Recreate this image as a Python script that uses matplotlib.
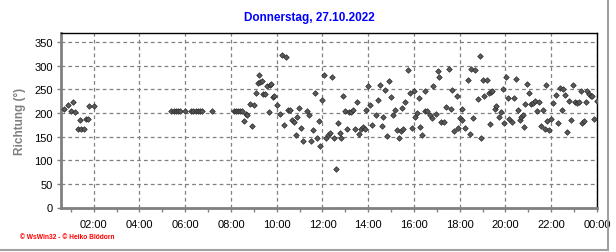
import matplotlib
matplotlib.use("Agg")
import matplotlib.pyplot as plt
from matplotlib.ticker import MultipleLocator, FixedLocator
from matplotlib.lines import Line2D

plt.rcParams['font.family'] = ['Liberation Sans', 'DejaVu Sans']

title = "Donnerstag, 27.10.2022"
ylabel = "Richtung (°)"
footer = "© WsWin32 - © Heiko Blödorn"
tick_hours = [2, 4, 6, 8, 10, 12, 14, 16, 18, 20, 22, 24]
tick_labels = ["02:00", "04:00", "06:00", "08:00", "10:00", "12:00",
               "14:00", "16:00", "18:00", "20:00", "22:00", "00:00"]
y_ticks = [0, 50, 100, 150, 200, 250, 300, 350]

# time in hours, wind direction in degrees
hours_night = [0.72, 0.89, 0.99, 1.08, 1.20, 1.30, 1.39, 1.45, 1.56, 1.68, 1.74, 1.81, 2.02]
dir_night = [209, 216, 203, 224, 201, 167, 186, 165, 165, 187, 188, 214, 214]

hours_morning = [5.40, 5.49, 5.58, 5.67, 5.75, 5.99, 6.25, 6.35, 6.45, 6.55, 6.65, 6.75, 7.17]
dir_morning = [204, 204, 204, 204, 204, 204, 204, 204, 204, 204, 204, 204, 204]

hours_day = [8.13, 8.22, 8.31, 8.40, 8.50, 8.57, 8.65, 8.72, 8.82, 8.92, 9.01, 9.10, 9.19, 9.23,
             9.29, 9.34, 9.40, 9.49, 9.58, 9.67, 9.69, 9.76, 9.82, 9.90, 10.02, 10.15, 10.22,
             10.32, 10.41, 10.51, 10.60, 10.67, 10.76, 10.85, 10.90, 10.98, 11.07, 11.16, 11.33,
             11.42, 11.51, 11.60, 11.68, 11.77, 11.86, 11.90, 11.99, 12.08, 12.16, 12.22, 12.31,
             12.43, 12.51, 12.60, 12.69, 12.78, 12.82, 12.91, 13.00, 13.08, 13.17, 13.26, 13.35,
             13.43, 13.52, 13.61, 13.70, 13.78, 13.86, 13.92, 14.00, 14.09, 14.18, 14.35, 14.44,
             14.53, 14.62, 14.66, 14.75, 14.84, 14.92, 15.01, 15.10, 15.19, 15.27, 15.36, 15.45,
             15.49, 15.54, 15.62, 15.75, 15.84, 15.93, 16.02, 16.06, 16.15, 16.20, 16.28, 16.37,
             16.46, 16.50, 16.59, 16.70, 16.78, 16.85, 16.95, 17.03, 17.11, 17.16, 17.33, 17.42,
             17.51, 17.60, 17.68, 17.76, 17.86, 17.93, 18.02, 18.09, 18.12, 18.24, 18.34, 18.44,
             18.50, 18.60, 18.68, 18.78, 18.87, 18.95, 19.03, 19.08, 19.17, 19.26, 19.33, 19.35,
             19.43, 19.52, 19.60, 19.70, 19.79, 19.87, 19.92, 20.02, 20.09, 20.15, 20.28, 20.37,
             20.46, 20.53, 20.63, 20.68, 20.77, 20.79, 20.84, 20.92, 21.01, 21.10, 21.19, 21.27,
             21.36, 21.45, 21.54, 21.63, 21.71, 21.76, 21.83, 21.92, 22.00, 22.09, 22.21, 22.30,
             22.39, 22.47, 22.52, 22.59, 22.68, 22.76, 22.85, 22.96, 23.03, 23.13, 23.20, 23.29,
             23.35, 23.44, 23.50, 23.57, 23.66, 23.75, 23.80, 23.86, 23.98]
dir_day = [204, 204, 204, 204, 204, 182, 198, 195, 218, 173, 216, 243, 263, 280,
           266, 267, 240, 241, 256, 201, 259, 261, 233, 235, 216, 197, 323,
           175, 318, 207, 207, 185, 181, 153, 191, 210, 168, 140, 204,
           195, 141, 163, 242, 148, 182, 131, 228, 280, 148, 154, 158,
           275, 148, 82, 178, 158, 146, 235, 204, 165, 201, 201, 206,
           167, 223, 156, 167, 171, 167, 206, 256, 216, 175, 195, 228,
           258, 173, 192, 248, 151, 267, 233, 195, 207, 163, 146, 161,
           210, 167, 224, 290, 242, 169, 246, 192, 199, 231, 171, 154,
           246, 204, 204, 196, 190, 257, 197, 288, 275, 180, 180, 212,
           292, 208, 248, 162, 235, 168, 189, 184, 208, 168, 269, 156,
           293, 190, 290, 229, 320, 148, 270, 235, 270, 242, 176, 245,
           246, 208, 214, 191, 201, 250, 178, 276, 231, 187, 181, 231,
           271, 207, 186, 191, 196, 171, 218, 261, 242, 218, 221, 225,
           204, 223, 173, 207, 165, 259, 182, 163, 187, 221, 238, 178,
           252, 206, 250, 238, 160, 226, 185, 259, 223, 222, 223, 247,
           178, 182, 223, 246, 241, 236, 235, 188, 226]

hours = hours_night + hours_morning + hours_day
dirs = dir_night + dir_morning + dir_day

W, H = 616, 253
fig = plt.figure(figsize=(W / 100, H / 100), dpi=100)
fig.patch.set_facecolor('white')

ax_l, ax_r, ax_t, ax_b = 61, 597, 33.5, 208.5
ax = fig.add_axes([ax_l / W, 1 - ax_b / H, (ax_r - ax_l) / W, (ax_b - ax_t) / H])

ax.set_xlim(0.57, 24)
ax.set_ylim(0, 370)

ax.scatter(hours, dirs, marker='D', s=8, facecolor='#5a5a5a', edgecolor='#2a2a2a',
           linewidths=0.5, zorder=3)

ax.xaxis.set_major_locator(FixedLocator(tick_hours))
ax.set_xticklabels(tick_labels)
ax.xaxis.set_minor_locator(MultipleLocator(1))
ax.yaxis.set_major_locator(FixedLocator(y_ticks))

ax.grid(True, which='major', color='#808080', linestyle=(0, (3, 2.5)), linewidth=0.9)
ax.set_axisbelow(True)

for s in ['top', 'right']:
    ax.spines[s].set_color('black')
    ax.spines[s].set_linewidth(1.0)
for s in ['left', 'bottom']:
    ax.spines[s].set_color('#808080')
    ax.spines[s].set_linewidth(2.0)

ax.tick_params(axis='both', which='major', direction='out', length=3, width=1,
               color='#808080', labelsize=8, labelcolor='black', pad=3)
ax.tick_params(axis='x', which='minor', direction='out', length=3, width=1, color='#808080')
ax.tick_params(axis='x', which='major', pad=5)

ax.set_ylabel(ylabel, color='#808080', fontsize=8.5, fontweight='bold', labelpad=6)

fig.text(309 / W, 1 - 18.5 / H, title, color='#0000ff', fontsize=8.5, fontweight='bold',
         ha='center', va='center')
fig.text(20 / W, 1 - 238 / H, footer, color='#ff0000', fontsize=4.8, fontweight='bold',
         ha='left', va='center')

# window-like border on right and bottom
fig.add_artist(Line2D([608 / W, 608 / W], [1 - 251 / H, 1.0], transform=fig.transFigure,
                      color='#a0a0a0', linewidth=1.5))
fig.add_artist(Line2D([0, 608 / W], [1 - 251 / H, 1 - 251 / H], transform=fig.transFigure,
                      color='#a0a0a0', linewidth=1.5))

fig.savefig('out.png', dpi=100, facecolor='white')
